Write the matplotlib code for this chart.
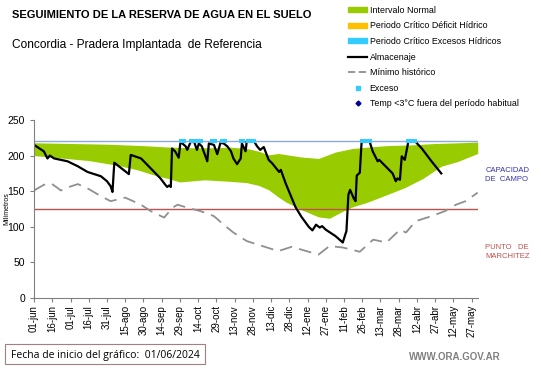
import numpy as np
import matplotlib.pyplot as plt
from matplotlib.patches import Patch, Rectangle
from matplotlib.lines import Line2D

plt.rcParams['font.family'] = ['Liberation Sans', 'DejaVu Sans']

# days since 01/06/2024
tick_days = np.arange(0, 361, 15)
tick_labels = ['01-jun', '16-jun', '01-jul', '16-jul', '31-jul', '15-ago', '30-ago',
               '14-sep', '29-sep', '14-oct', '29-oct', '13-nov', '28-nov', '13-dic',
               '28-dic', '12-ene', '27-ene', '11-feb', '26-feb', '13-mar', '28-mar',
               '12-abr', '27-abr', '12-may', '27-may']

# intervalo normal (lower / upper)
band_days = [0, 20, 45, 70, 85, 100, 110, 120, 140, 160, 175, 185, 193, 200, 207,
             220, 234, 243, 253, 262, 275, 290, 305, 320, 335, 349, 365]
band_low = [200, 197, 193, 186, 180, 172, 168, 163, 166, 164, 162, 158, 152, 143, 135,
            124, 114, 112, 121, 128, 135, 145, 155, 168, 185, 192, 203]
band_up_days = [0, 30, 60, 90, 110, 130, 150, 160, 175, 185, 193, 201, 220, 234, 248,
                262, 275, 290, 310, 330, 350, 365]
band_up = [218, 217, 216, 214, 212, 211, 211, 212, 210, 206, 201, 203, 198, 196, 205,
           210, 212, 214, 215, 217, 218, 219]

# almacenaje (day, mm)
almacenaje = [(0, 215), (8, 206), (11, 196), (13, 200), (16.5, 196), (27.5, 192),
              (36, 185), (44, 177), (55, 171), (60, 164), (63, 157), (64.5, 149),
              (66, 190), (72, 182), (78, 174), (79.5, 201), (88, 196), (96, 182),
              (104, 168), (108, 159), (109.5, 156), (111, 158), (112.5, 156),
              (113.5, 210), (116, 206), (119, 197), (120.5, 220), (122, 217),
              (124.7, 213), (126, 208), (128.8, 219), (131.5, 220), (134, 208),
              (135.6, 217), (138, 213), (142.5, 192), (143.8, 217), (148, 215),
              (150.7, 202), (153.4, 218), (156, 217), (159, 213), (162, 206),
              (164, 196), (167, 188), (170, 196), (171, 217), (174, 206), (175, 220),
              (181, 220), (183.5, 213), (186, 208), (189, 212), (193, 194), (196, 189),
              (201.6, 177), (203, 180), (207, 161), (215, 128), (220, 114),
              (226, 100), (229, 95), (232, 103), (235, 99), (237, 101), (240, 96),
              (248, 87), (254, 78), (256, 89), (257, 94), (258.6, 145), (260, 152),
              (263, 140), (264.5, 136), (265.5, 172), (268, 176), (269.4, 217),
              (270, 220), (276, 220), (278.6, 206), (282.7, 192), (284, 194),
              (288, 187), (295, 175), (297.6, 164), (299, 168), (301, 166),
              (302.5, 199), (305, 194), (308, 220), (313.5, 220), (319, 210),
              (327, 192), (335, 175)]
alm_days = [d for d, v in almacenaje]
alm_vals = [v for d, v in almacenaje]

# minimo historico
min_days = [0, 8, 14, 19, 22, 27, 36, 44, 55, 63, 75, 88, 96, 107, 114, 118, 126, 137,
            148, 156, 164, 175, 186, 201, 212, 234, 243, 254, 268, 279, 290, 301, 306,
            314, 327, 338, 347, 355, 365]
min_vals = [151, 159, 161, 155, 151, 155, 160, 154, 143, 136, 141, 131, 122, 113, 127,
            131, 127, 122, 115, 103, 92, 80, 74, 66, 72, 61, 73, 71, 65, 82, 78, 96, 92,
            108, 115, 122, 131, 136, 148]

# dias con exceso
exc_days = [121, 122, 123, 129, 130, 131, 132, 135, 136, 137, 146, 147, 148, 149, 155, 156,
            157, 170, 171, 172, 176, 177, 178, 179, 180, 181, 270, 271, 272, 273, 274,
            275, 276, 308, 309, 310, 311, 312, 313]

capacidad = 220
marchitez = 125

fig = plt.figure(figsize=(5.41, 3.68), dpi=100)
ax = fig.add_axes([0.063, 0.19, 0.82, 0.484])

x = np.arange(0, 366)
lo = np.interp(x, band_days, band_low)
up = np.interp(x, band_up_days, band_up)
ax.fill_between(x, lo, up, color='#99cc00', lw=0)

ax.axhline(capacidad, color='#8ea9db', lw=1)
ax.axhline(marchitez, color='#c0504d', lw=1)

ax.plot(min_days, min_vals, color='#909090', lw=1.3, dashes=(7, 4))
ax.plot(alm_days, alm_vals, color='black', lw=1.6)
ax.scatter(exc_days, [capacidad] * len(exc_days), marker='s', s=9, color='#33ccff',
           zorder=5, lw=0)

ax.set_xlim(0, 365)
ax.set_ylim(0, 250)
ax.set_yticks(np.arange(0, 251, 50))
ax.set_xticks(tick_days)
ax.set_xticklabels(tick_labels, rotation=90, fontsize=7)
ax.tick_params(axis='y', labelsize=7.5, length=3, color='#808080')
ax.tick_params(axis='x', length=3, color='#808080', pad=2)
for s in ['top', 'right']:
    ax.spines[s].set_visible(False)
for s in ['left', 'bottom']:
    ax.spines[s].set_color('#808080')
ax.set_ylabel('Milímetros', fontsize=5, labelpad=-2)

fig.text(0.022, 0.958, 'SEGUIMIENTO DE LA RESERVA DE AGUA EN EL SUELO', fontsize=8,
         fontweight='bold', va='center')
fig.text(0.022, 0.877, 'Concordia - Pradera Implantada  de Referencia', fontsize=8.6,
         va='center')

handles = [Patch(color='#99cc00'), Patch(color='#ffc000'), Patch(color='#33ccff'),
           Line2D([], [], color='black', lw=1.6),
           Line2D([], [], color='#909090', lw=1.3, dashes=(4, 2)),
           Line2D([], [], marker='s', ls='', color='#33ccff', ms=2.5),
           Line2D([], [], marker='D', ls='', color='#000099', ms=2.5)]
labels = ['Intervalo Normal', 'Periodo Crítico Déficit Hídrico',
          'Periodo Crítico Excesos Hídricos', 'Almacenaje', 'Mínimo histórico',
          'Exceso', 'Temp <3°C fuera del período habitual']
fig.legend(handles, labels, loc='upper left', bbox_to_anchor=(0.628, 1.006),
           frameon=False, fontsize=6.4, handlelength=2.2, handleheight=0.45,
           labelspacing=0.74, handletextpad=0.25)

fig.text(0.897, 0.525, 'CAPACIDAD\nDE  CAMPO', color='#3333aa', fontsize=5.5,
         ha='left', va='center', linespacing=1.3)
fig.text(0.897, 0.315, 'PUNTO   DE\nMARCHITEZ', color='#c0504d', fontsize=5.5,
         ha='left', va='center', linespacing=1.3)

fig.text(0.02, 0.034, 'Fecha de inicio del gráfico:  01/06/2024', fontsize=7.5,
         va='center', family=['Open Sans', 'DejaVu Sans'])
fig.add_artist(Rectangle((0.009, 0.01), 0.37, 0.055, transform=fig.transFigure,
                         fill=False, ec='#a08080', lw=0.8))
fig.text(0.925, 0.03, 'WWW.ORA.GOV.AR', fontsize=7, color='#808080', ha='right',
         va='center', fontweight='bold')

fig.savefig('out.png', dpi=100)
